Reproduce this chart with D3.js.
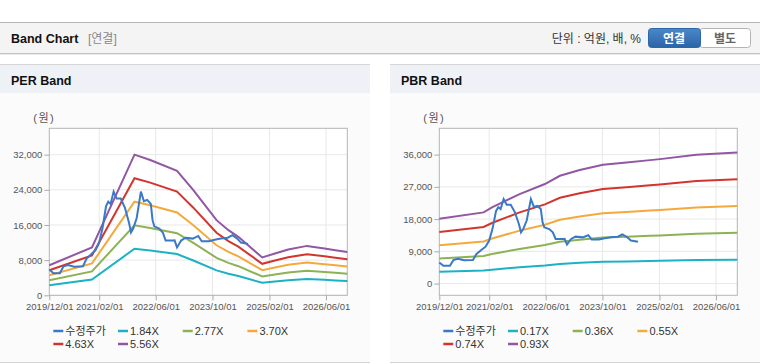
<!DOCTYPE html>
<html>
<head>
  <meta charset="utf-8">
  <script src="https://d3js.org/d3.v7.min.js"></script>
  <style>
    body { margin: 0; background: #fff; font-family: "Liberation Sans", Arial, sans-serif; }
    .kr { font-family: "Liberation Sans", Arial, "Noto Sans CJK KR", sans-serif; }
    .grid line { stroke: #e8e8e8; }
    .axis text { font-size: 9.5px; fill: #555; font-family: "Liberation Sans", Arial, sans-serif; }
    .axis path, .axis line { stroke: #aaa; }
  </style>
</head>
<body>
  <svg width="760" height="364"></svg>
  <script>
    const width = 760, height = 364;

    // 수정주가 (adjusted price)
    const priceDates = ["2019/12/01","2020/01/05","2020/03/01","2020/04/01","2020/05/10","2020/07/01","2020/09/15","2020/10/15","2020/12/01","2021/01/01","2021/02/01","2021/03/01","2021/04/01","2021/04/20","2021/05/10","2021/06/05","2021/07/01","2021/08/05","2021/09/10","2021/10/15","2021/11/01","2021/11/20","2021/12/20","2022/01/25","2022/02/20","2022/03/20","2022/04/20","2022/05/05","2022/05/20","2022/07/01","2022/08/01","2022/08/25","2022/10/25","2022/11/10","2022/12/01","2023/01/05","2023/02/12","2023/04/15","2023/06/01","2023/07/01","2023/09/01","2023/10/20","2023/12/12","2024/02/10","2024/03/20","2024/05/01","2024/06/01","2024/08/01"];
    const priceValues = [5900,5000,5000,6600,6900,6500,6600,8300,9500,10300,12000,15200,20300,21300,20800,23600,22000,22000,19900,16500,14300,15200,17600,23600,21400,21700,20800,17100,15700,15200,14300,12450,12450,12500,10900,12450,13100,12900,13500,12300,12300,12650,12900,13100,13700,12900,12000,11700];

    // PER band base (EPS) and multiples
    const perDates = ["2019/12/01","2020/12/01","2021/12/01","2022/04/15","2022/12/01","2023/04/20","2023/11/05","2024/02/15","2024/05/10","2024/12/01","2025/03/20","2025/07/12","2025/12/20","2026/05/20","2026/08/20","2026/12/01"];
    const perEps = [1230,1960,5755,5536,5097,4306,3076,2665,2392,1547,1710,1874,2022,1914,1845,1775];
    const perMultiples = [1.84, 2.77, 3.70, 4.63, 5.56];

    // PBR band base (BPS) and multiples
    const pbrDates = ["2019/12/01","2020/12/15","2021/02/25","2021/10/20","2022/05/25","2022/10/01","2023/03/20","2023/10/05","2024/04/25","2024/11/12","2025/02/05","2025/12/15","2026/12/01"];
    const pbrBps = [19460,21370,22860,26870,29870,32350,34060,35650,36340,37050,37350,38650,39330];
    const pbrMultiples = [0.17, 0.36, 0.55, 0.74, 0.93];

    const xTicks = ["2019/12/01","2021/02/01","2022/06/01","2023/10/01","2025/02/01","2026/06/01"];
    const perYTicks = [0, 8000, 16000, 24000, 32000];
    const pbrYTicks = [0, 9000, 18000, 27000, 36000];

    const colors = ["#3a78c8", "#1cb2c4", "#8db254", "#f4a93c", "#d2352d", "#9257a3"];
    const parse = d3.timeParse("%Y/%m/%d");

    const svg = d3.select("svg");

    // top header bar
    svg.append("rect").attr("x", 0).attr("y", 22).attr("width", width).attr("height", 32)
      .attr("fill", "#f4f4f4");
    svg.append("line").attr("x1", 0).attr("x2", width).attr("y1", 22.5).attr("y2", 22.5).attr("stroke", "#b8b8b8");
    svg.append("line").attr("x1", 0).attr("x2", width).attr("y1", 53.5).attr("y2", 53.5).attr("stroke", "#c4c4c4");
    svg.append("line").attr("x1", 0).attr("x2", width).attr("y1", 54.5).attr("y2", 54.5).attr("stroke", "#e8e8e8");
    svg.append("text").attr("class", "kr").attr("x", 11).attr("y", 43)
      .attr("font-size", 12.5).attr("font-weight", "bold").attr("fill", "#111").text("Band Chart");
    svg.append("text").attr("class", "kr").attr("x", 88).attr("y", 43)
      .attr("font-size", 12).attr("fill", "#888").text("[연결]");
    svg.append("text").attr("class", "kr").attr("x", 641).attr("y", 43).attr("text-anchor", "end")
      .attr("font-size", 12).attr("fill", "#333").text("단위 : 억원, 배, %");

    // toggle buttons
    const grad = svg.append("defs").append("linearGradient").attr("id", "btn").attr("x1", 0).attr("x2", 0).attr("y1", 0).attr("y2", 1);
    grad.append("stop").attr("offset", 0).attr("stop-color", "#4a88c8");
    grad.append("stop").attr("offset", 1).attr("stop-color", "#2a64a8");
    svg.append("rect").attr("x", 699.5).attr("y", 28.5).attr("width", 51).attr("height", 19).attr("rx", 3)
      .attr("fill", "#fff").attr("stroke", "#b4b4b4");
    svg.append("rect").attr("x", 648.5).attr("y", 28.5).attr("width", 52).attr("height", 19).attr("rx", 3)
      .attr("fill", "url(#btn)").attr("stroke", "#2e66a6");
    svg.append("text").attr("class", "kr").attr("x", 674).attr("y", 42.5).attr("text-anchor", "middle")
      .attr("font-size", 12).attr("font-weight", "bold").attr("fill", "#fff").text("연결");
    svg.append("text").attr("class", "kr").attr("x", 725).attr("y", 42.5).attr("text-anchor", "middle")
      .attr("font-size", 12).attr("font-weight", "bold").attr("fill", "#666").text("별도");

    function drawPanel(px, title, dates, base, multiples, yDomain, yTicks, seriesNames) {
      const g = svg.append("g").attr("transform", `translate(${px},0)`);
      const pw = 370;
      g.append("rect").attr("x", 0).attr("y", 64).attr("width", pw).attr("height", 299).attr("fill", "#fbfbfb");
      g.append("rect").attr("x", 0).attr("y", 64).attr("width", pw).attr("height", 29).attr("fill", "#eef1f6");
      g.append("line").attr("x1", 0).attr("x2", pw).attr("y1", 64.5).attr("y2", 64.5).attr("stroke", "#d6d6d6");
      g.append("line").attr("x1", 0).attr("x2", pw).attr("y1", 362.5).attr("y2", 362.5).attr("stroke", "#d6d6d6");
      g.append("text").attr("class", "kr").attr("x", 11).attr("y", 84.5)
        .attr("font-size", 12.5).attr("font-weight", "bold").attr("fill", "#111").text(title);

      const left = 49.3, right = 347.3, top = 128.3, bottom = 295.3;
      const x = d3.scaleTime().domain([parse("2019/12/01"), parse("2026/12/01")]).range([left, right]);
      const y = d3.scaleLinear().domain(yDomain).range([bottom, top]);

      g.append("rect").attr("x", left).attr("y", top).attr("width", right - left).attr("height", bottom - top).attr("fill", "#fff");

      g.append("g").attr("class", "grid")
        .selectAll("line.v").data(xTicks.slice(1)).join("line")
        .attr("x1", d => x(parse(d))).attr("x2", d => x(parse(d))).attr("y1", top).attr("y2", bottom);
      g.append("g").attr("class", "grid")
        .selectAll("line.h").data(yTicks).join("line")
        .attr("x1", left).attr("x2", right).attr("y1", d => y(d)).attr("y2", d => y(d));

      g.append("rect").attr("x", left).attr("y", top).attr("width", right - left).attr("height", bottom - top)
        .attr("fill", "none").attr("stroke", "#b4b4b4");

      const xAxis = g.append("g").attr("class", "axis").attr("transform", `translate(0,${bottom})`)
        .call(d3.axisBottom(x).tickValues(xTicks.map(parse)).tickFormat(d3.timeFormat("%Y/%m/%d")).tickSizeOuter(0).tickSize(5).tickPadding(3));
      xAxis.select(".domain").remove();
      const yAxis = g.append("g").attr("class", "axis").attr("transform", `translate(${left},0)`)
        .call(d3.axisLeft(y).tickValues(yTicks).tickFormat(d3.format(",")).tickSize(5).tickPadding(2));
      yAxis.select(".domain").remove();

      g.append("text").attr("class", "kr").attr("x", left - 16).attr("y", 122).attr("font-size", 11)
        .attr("letter-spacing", 1.5).attr("fill", "#555").text("(원)");

      const line = d3.line().x(d => x(d[0])).y(d => y(d[1]));
      multiples.forEach((m, i) => {
        const pts = dates.map((d, j) => [parse(d), base[j] * m]);
        g.append("path").datum(pts).attr("d", line).attr("fill", "none")
          .attr("stroke", colors[i + 1]).attr("stroke-width", 2);
      });
      const pricePts = priceDates.map((d, j) => [parse(d), priceValues[j]]);
      g.append("path").datum(pricePts).attr("d", line).attr("fill", "none")
        .attr("stroke", colors[0]).attr("stroke-width", 2);

      // legend
      const leg = g.append("g").selectAll("g").data(seriesNames).join("g")
        .attr("transform", (d, i) => `translate(${left + 4 + (i % 4) * 64.7},${331 + Math.floor(i / 4) * 13})`);
      leg.append("line").attr("x1", 0).attr("x2", 10).attr("stroke", (d, i) => colors[i]).attr("stroke-width", 2.5);
      leg.append("text").attr("class", "kr").attr("x", 12).attr("y", 4).attr("font-size", 11).attr("fill", "#333").text(d => d);
    }

    drawPanel(0, "PER Band", perDates, perEps, perMultiples, [0, 38000], perYTicks,
      ["수정주가"].concat(perMultiples.map(m => m.toFixed(2) + "X")));
    drawPanel(390, "PBR Band", pbrDates, pbrBps, pbrMultiples, [-3270, 43340], pbrYTicks,
      ["수정주가"].concat(pbrMultiples.map(m => m.toFixed(2) + "X")));
  </script>
</body>
</html>
